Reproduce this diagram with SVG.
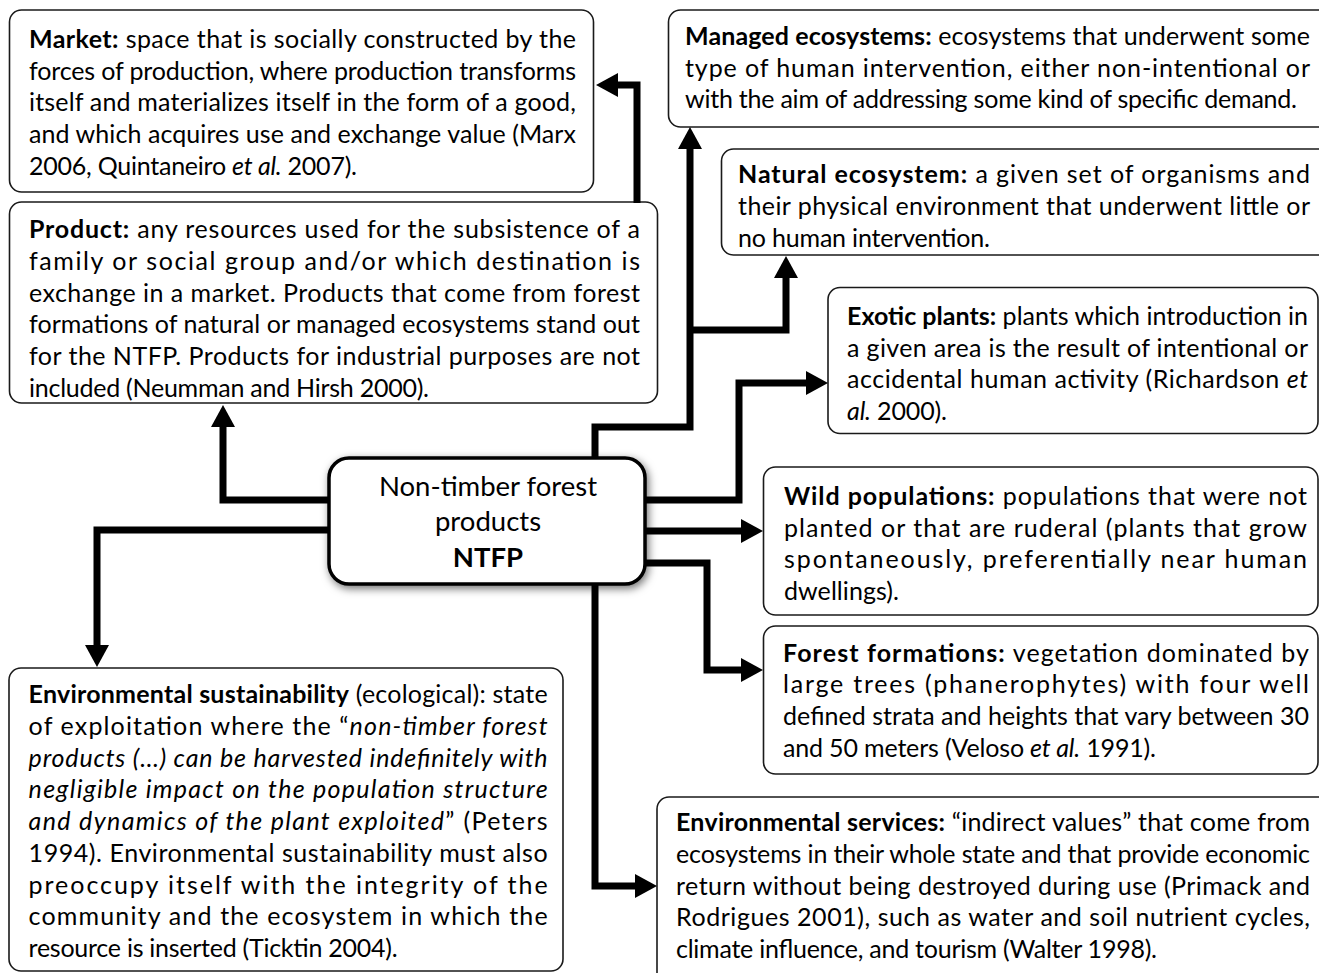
<svg xmlns="http://www.w3.org/2000/svg" width="1319" height="973" viewBox="0 0 1319 973">
<style>
.box{fill:#fff;stroke:#1a1a1a;stroke-width:1.6}
.t{font-family:Lato,"Open Sans","Liberation Sans",sans-serif;font-size:25px;fill:#000}
.b{font-weight:700}
.i{font-style:italic}
.conn{fill:none;stroke:#000;stroke-width:7;stroke-linejoin:miter;marker-end:url(#ah)}
.main{fill:#fff;stroke:#000;stroke-width:3.5;filter:url(#sh)}
.c{font-family:Lato,"Open Sans","Liberation Sans",sans-serif;font-size:27.5px;fill:#000;text-anchor:middle}
</style>
<defs>
<marker id="ah" markerUnits="userSpaceOnUse" markerWidth="24" markerHeight="24" viewBox="0 0 22 24" refX="1" refY="12" orient="auto">
<path d="M0,0 L22,12 L0,24 z" fill="#000"/>
</marker>
<filter id="sh" x="-20%" y="-30%" width="140%" height="160%">
<feDropShadow dx="2" dy="3" stdDeviation="4" flood-color="#000" flood-opacity="0.55"/>
</filter>
</defs>
<rect width="1319" height="973" fill="#fff"/>

<g id="market">
<rect class="box" x="9.5" y="10" width="584" height="182" rx="12"/>
<text class="t" x="29" y="48" textLength="547" lengthAdjust="spacing"><tspan class="b">Market:</tspan> space that is socially constructed by the</text>
<text class="t" x="29" y="79.7" textLength="547" lengthAdjust="spacing">forces of production, where production transforms</text>
<text class="t" x="29" y="111.4" textLength="547" lengthAdjust="spacing">itself and materializes itself in the form of a good,</text>
<text class="t" x="29" y="143.1" textLength="547" lengthAdjust="spacing">and which acquires use and exchange value (Marx</text>
<text class="t" x="29" y="174.8" textLength="328" lengthAdjust="spacing">2006, Quintaneiro <tspan class="i">et al.</tspan> 2007).</text>
</g>

<g id="product">
<rect class="box" x="9.5" y="202" width="648" height="201" rx="12"/>
<text class="t" x="29" y="238.3" textLength="611" lengthAdjust="spacing"><tspan class="b">Product:</tspan> any resources used for the subsistence of a</text>
<text class="t" x="29" y="270" textLength="611" lengthAdjust="spacing">family or social group and/or which destination is</text>
<text class="t" x="29" y="301.7" textLength="611" lengthAdjust="spacing">exchange in a market. Products that come from forest</text>
<text class="t" x="29" y="333.4" textLength="611" lengthAdjust="spacing">formations of natural or managed ecosystems stand out</text>
<text class="t" x="29" y="365.1" textLength="611" lengthAdjust="spacing">for the NTFP. Products for industrial purposes are not</text>
<text class="t" x="29" y="396.8" textLength="400" lengthAdjust="spacing">included (Neumman and Hirsh 2000).</text>
</g>

<g id="managed">
<rect class="box" x="668.5" y="10" width="665" height="117" rx="12"/>
<text class="t" x="685" y="45" textLength="625" lengthAdjust="spacing"><tspan class="b">Managed ecosystems:</tspan> ecosystems that underwent some</text>
<text class="t" x="685" y="76.7" textLength="625" lengthAdjust="spacing">type of human intervention, either non-intentional or</text>
<text class="t" x="685" y="108.4" textLength="612" lengthAdjust="spacing">with the aim of addressing some kind of specific demand.</text>
</g>

<g id="natural">
<rect class="box" x="721.5" y="149" width="612" height="106" rx="12"/>
<text class="t" x="738" y="183.3" textLength="572" lengthAdjust="spacing"><tspan class="b">Natural ecosystem:</tspan> a given set of organisms and</text>
<text class="t" x="738" y="215" textLength="572" lengthAdjust="spacing">their physical environment that underwent little or</text>
<text class="t" x="738" y="246.7" textLength="252" lengthAdjust="spacing">no human intervention.</text>
</g>

<g id="exotic">
<rect class="box" x="828" y="287.5" width="490" height="146" rx="12"/>
<text class="t" x="847" y="325" textLength="461" lengthAdjust="spacing"><tspan class="b">Exotic plants:</tspan> plants which introduction in</text>
<text class="t" x="847" y="356.7" textLength="461" lengthAdjust="spacing">a given area is the result of intentional or</text>
<text class="t" x="847" y="388.4" textLength="461" lengthAdjust="spacing">accidental human activity (Richardson <tspan class="i">et</tspan></text>
<text class="t" x="847" y="420.1" textLength="100" lengthAdjust="spacing"><tspan class="i">al.</tspan> 2000).</text>
</g>

<g id="wild">
<rect class="box" x="763.5" y="467" width="554.5" height="148" rx="12"/>
<text class="t" x="784" y="505" textLength="523" lengthAdjust="spacing"><tspan class="b">Wild populations:</tspan> populations that were not</text>
<text class="t" x="784" y="536.5" textLength="523" lengthAdjust="spacing">planted or that are ruderal (plants that grow</text>
<text class="t" x="784" y="568" textLength="523" lengthAdjust="spacing">spontaneously, preferentially near human</text>
<text class="t" x="784" y="599.5" textLength="115" lengthAdjust="spacing">dwellings).</text>
</g>

<g id="forest">
<rect class="box" x="763.5" y="626" width="554.5" height="148" rx="12"/>
<text class="t" x="783" y="661.7" textLength="526" lengthAdjust="spacing"><tspan class="b">Forest formations:</tspan> vegetation dominated by</text>
<text class="t" x="783" y="693.4" textLength="526" lengthAdjust="spacing">large trees (phanerophytes) with four well</text>
<text class="t" x="783" y="725.1" textLength="526" lengthAdjust="spacing">defined strata and heights that vary between 30</text>
<text class="t" x="783" y="756.8" textLength="373" lengthAdjust="spacing">and 50 meters (Veloso <tspan class="i">et al.</tspan> 1991).</text>
</g>

<g id="services">
<rect class="box" x="657" y="797" width="676" height="195" rx="12"/>
<text class="t" x="676" y="831" textLength="634" lengthAdjust="spacing"><tspan class="b">Environmental services:</tspan> “indirect values” that come from</text>
<text class="t" x="676" y="862.8" textLength="634" lengthAdjust="spacing">ecosystems in their whole state and that provide economic</text>
<text class="t" x="676" y="894.6" textLength="634" lengthAdjust="spacing">return without being destroyed during use (Primack and</text>
<text class="t" x="676" y="926.4" textLength="634" lengthAdjust="spacing">Rodrigues 2001), such as water and soil nutrient cycles,</text>
<text class="t" x="676" y="958.2" textLength="481" lengthAdjust="spacing">climate influence, and tourism (Walter 1998).</text>
</g>

<g id="sustainability">
<rect class="box" x="9" y="668" width="554" height="303" rx="12"/>
<text class="t" x="28.6" y="703.3" textLength="519" lengthAdjust="spacing"><tspan class="b">Environmental sustainability</tspan> (ecological): state</text>
<text class="t" x="28.6" y="735" textLength="519" lengthAdjust="spacing">of exploitation where the “<tspan class="i">non-timber forest</tspan></text>
<text class="t i" x="28.6" y="766.7" textLength="519" lengthAdjust="spacing">products (…) can be harvested indefinitely with</text>
<text class="t i" x="28.6" y="798.4" textLength="519" lengthAdjust="spacing">negligible impact on the population structure</text>
<text class="t" x="28.6" y="830.1" textLength="519" lengthAdjust="spacing"><tspan class="i">and dynamics of the plant exploited</tspan>” (Peters</text>
<text class="t" x="28.6" y="861.8" textLength="519" lengthAdjust="spacing">1994). Environmental sustainability must also</text>
<text class="t" x="28.6" y="893.5" textLength="519" lengthAdjust="spacing">preoccupy itself with the integrity of the</text>
<text class="t" x="28.6" y="925.2" textLength="519" lengthAdjust="spacing">community and the ecosystem in which the</text>
<text class="t" x="28.6" y="956.9" textLength="369" lengthAdjust="spacing">resource is inserted (Ticktin 2004).</text>
</g>

<g id="connectors">
<path class="conn" d="M637,203 L637,85 L617,85"/>
<path class="conn" d="M595,458 L595,427 L690,427 L690,148"/>
<path class="conn" d="M690,330 L786,330 L786,277"/>
<path class="conn" d="M645,500 L739,500 L739,383 L807,383"/>
<path class="conn" d="M645,531 L742,531"/>
<path class="conn" d="M645,563 L707,563 L707,670 L742,670"/>
<path class="conn" d="M595,584 L595,886 L636,886"/>
<path class="conn" d="M330,500 L223,500 L223,426"/>
<path class="conn" d="M330,530 L97,530 L97,646"/>
</g>

<g id="ntfp">
<rect class="main" x="329" y="458" width="316" height="126" rx="20"/>
<text class="c" x="488" y="496">Non-timber forest</text>
<text class="c" x="488" y="531">products</text>
<text class="c b" x="488" y="567">NTFP</text>
</g>
</svg>
